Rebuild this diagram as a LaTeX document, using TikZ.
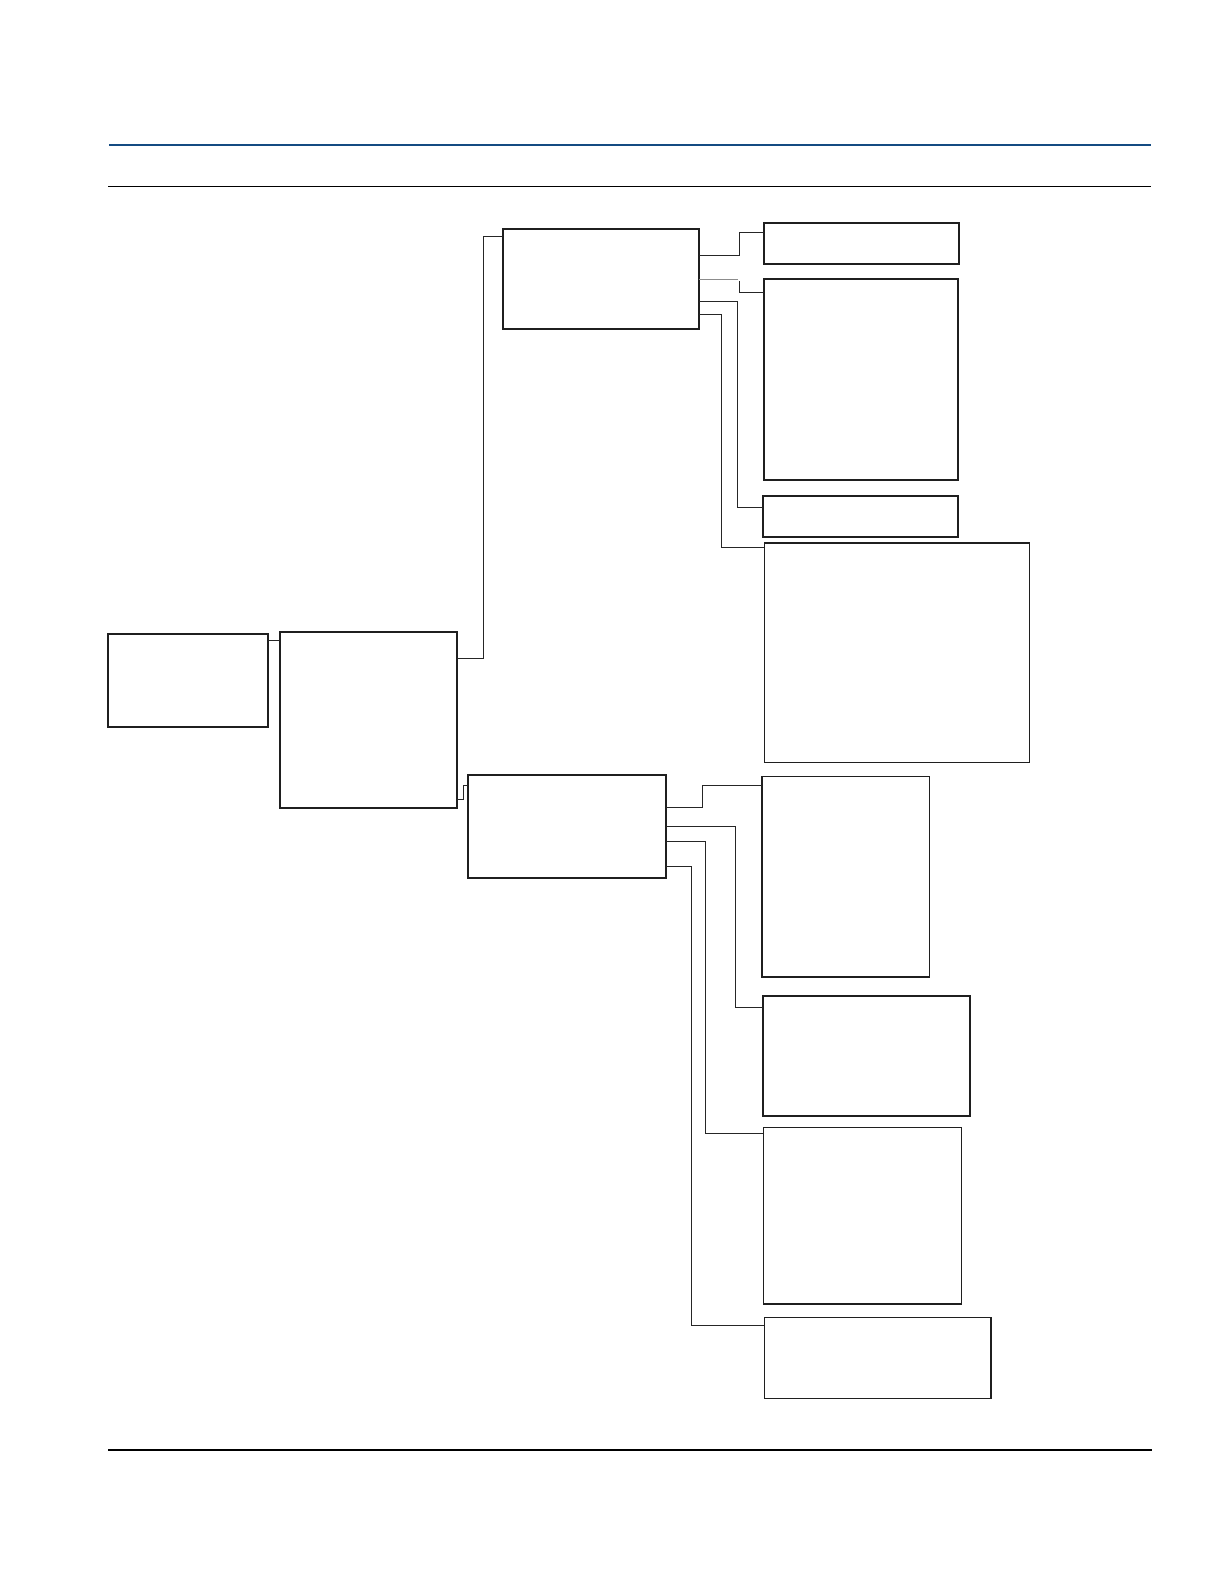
\documentclass[tikz,border=0pt]{standalone}
\usetikzlibrary{calc,fit}
\definecolor{hdrblue}{RGB}{20,75,130}
\begin{document}
\begin{tikzpicture}[x=1pt,y=-1pt,
  boxst/.style={draw=black!88, line width=2pt, inner sep=0pt, outer sep=0pt, rectangle},
  conn/.style={draw=black!85, line width=1pt},
  rulest/.style={line width=1.3pt, draw=black}]
\useasboundingbox (0,0) rectangle (1224,1584);
% header and footer rules
\coordinate (h1l) at (109,145); \coordinate (h1r) at (1151,145);
\coordinate (h2l) at (108,186.3); \coordinate (h2r) at (1151,186.3);
\coordinate (h3l) at (108,1450); \coordinate (h3r) at (1152,1450);
\draw[line width=2.2pt, draw=hdrblue] (h1l) -- (h1r);
\draw[rulest] (h2l) -- (h2r);
\draw[rulest] (h3l) -- (h3r);
% boxes
\node[boxst, fit={(108,634)(268,726.5)}] (A) {};
\node[boxst, fit={(280,632)(457,808)}] (B) {};
\node[boxst, fit={(503,229)(699,329)}] (C) {};
\node[boxst, fit={(764,223)(959,264)}] (D1) {};
\node[boxst, fit={(763.5,279)(957.5,480)}] (D2) {};
\node[boxst, fit={(762.7,495.7)(958.3,537)}] (D3) {};
\node[boxst, line width=1.6pt, fit={(764.3,542.7)(1029.3,762.3)}] (D4) {};
\node[boxst, fit={(468.3,774.5)(666,877.7)}] (E) {};
\node[boxst, line width=1.6pt, fit={(762,776.5)(929.3,977)}] (F1) {};
\node[boxst, fit={(762.5,996)(970,1115.7)}] (F2) {};
\node[boxst, line width=1.6pt, fit={(763.3,1127.3)(961.3,1304)}] (F3) {};
\node[boxst, line width=1.6pt, fit={(764.3,1317.3)(991,1398.3)}] (F4) {};
% attachment points
\coordinate (ab) at ($(A.north east)+(0,6)$);
\coordinate (bc) at ($(B.north east)+(0,26.3)$);
\coordinate (be) at ($(B.north east)+(0,167)$);
\coordinate (cin) at ($(C.north west)+(0,7.7)$);
\coordinate (ein) at ($(E.north west)+(0,10.5)$);
\coordinate (c1) at ($(C.north east)+(0,26)$);
\coordinate (c2) at ($(C.north east)+(0,50)$);
\coordinate (c3) at ($(C.north east)+(0,72)$);
\coordinate (c4) at ($(C.north east)+(0,85.3)$);
\coordinate (d1) at ($(D1.north west)+(0,9)$);
\coordinate (d2) at ($(D2.north west)+(0,13)$);
\coordinate (d3) at ($(D3.north west)+(0,11.3)$);
\coordinate (d4) at ($(D4.north west)+(0,4.8)$);
\coordinate (e1) at ($(E.north east)+(0,32.8)$);
\coordinate (e2) at ($(E.north east)+(0,51.8)$);
\coordinate (e3) at ($(E.north east)+(0,66.5)$);
\coordinate (e4) at ($(E.north east)+(0,92.2)$);
\coordinate (f1) at ($(F1.north west)+(0,8.8)$);
\coordinate (f2) at ($(F2.north west)+(0,11.7)$);
\coordinate (f3) at ($(F3.north west)+(0,6)$);
\coordinate (f4) at ($(F4.north west)+(0,8.4)$);
% bend columns
\coordinate (xbc) at (483,0);
\coordinate (xbe) at (463.3,0);
\coordinate (xc1) at (739,0);
\coordinate (xc2g) at (737.7,0);
\coordinate (c2b) at (739.3,281);
\coordinate (xc3) at (737.3,0);
\coordinate (xc4) at (721.3,0);
\coordinate (xe1) at (702.3,0);
\coordinate (xe2) at (735.7,0);
\coordinate (xe3) at (705.3,0);
\coordinate (xe4) at (691.7,0);
% connectors
\draw[conn] (ab) -- (ab -| B.west);
\draw[conn] (bc) -| (xbc |- cin) -- (cin);
\draw[conn] (be) -| (xbe |- ein) -- (ein);
\draw[conn] (c1) -| (xc1 |- d1) -- (d1);
\draw[conn, draw=black!45] (c2) -- (c2 -| xc2g);
\draw[conn] (c2b) |- (d2);
\draw[conn] (c3) -| (xc3 |- d3) -- (d3);
\draw[conn] (c4) -| (xc4 |- d4) -- (d4);
\draw[conn] (e1) -| (xe1 |- f1) -- (f1);
\draw[conn] (e2) -| (xe2 |- f2) -- (f2);
\draw[conn] (e3) -| (xe3 |- f3) -- (f3);
\draw[conn] (e4) -| (xe4 |- f4) -- (f4);
\end{tikzpicture}
\end{document}
